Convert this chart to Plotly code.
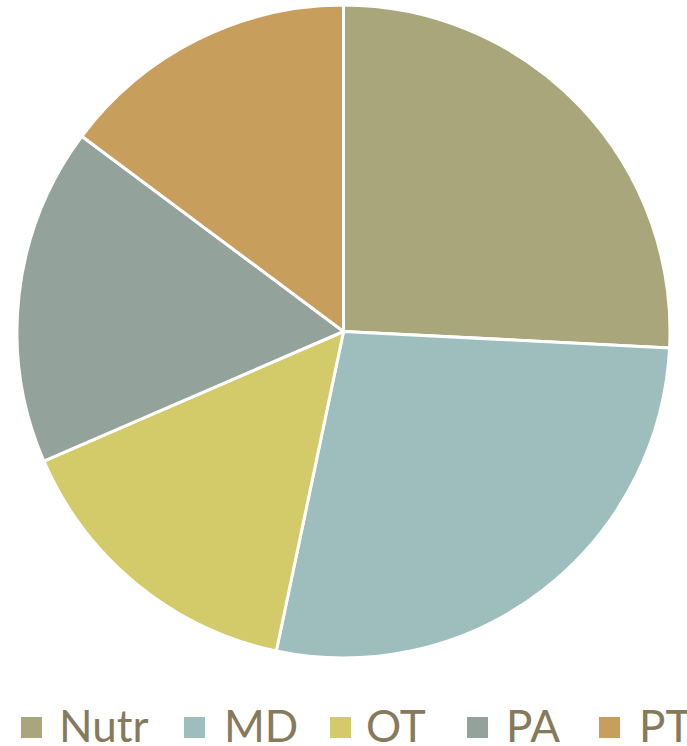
import plotly.graph_objects as go

labels = ["Nutr", "MD", "OT", "PA", "PT"]
values = [25.8, 27.5, 15.2, 16.7, 14.8]
colors = ["#a9a67b", "#9ebdbd", "#d3ca6a", "#93a29a", "#c89e5c"]

W, H = 687, 746
fig = go.Figure(go.Pie(
    labels=labels,
    values=values,
    sort=False,
    direction="clockwise",
    rotation=0,
    marker=dict(colors=colors, line=dict(color="white", width=3)),
    textinfo="none",
    hoverinfo="label+percent",
    domain=dict(x=[0, 1], y=[(H - 658) / H, (H - 5) / H]),
    showlegend=False,
))

# manual legend (layout positions in pixels)
sq_x = [21, 184, 330, 467, 599]
tx_x = [58, 223, 365, 505, 638]
sq_size = 21
sq_top = 717
text_mid = 725
for lab, col, sx, tx in zip(labels, colors, sq_x, tx_x):
    fig.add_shape(type="rect", xref="paper", yref="paper",
                  x0=sx / W, x1=(sx + sq_size) / W,
                  y0=(H - sq_top - sq_size) / H, y1=(H - sq_top) / H,
                  fillcolor=col, line=dict(width=0))
    fig.add_annotation(text=lab, xref="paper", yref="paper",
                       x=tx / W, y=(H - text_mid) / H,
                       xanchor="left", yanchor="middle", showarrow=False,
                       borderpad=0,
                       font=dict(family="Lato", size=44, color="#857a5c"))

fig.update_layout(
    width=W, height=H,
    margin=dict(l=0, r=0, t=0, b=0),
    paper_bgcolor="white",
    plot_bgcolor="white",
)

fig.write_html("out.html",
               config={"displayModeBar": False},
               post_script="document.body.style.margin='0';document.body.style.overflow='hidden';")
